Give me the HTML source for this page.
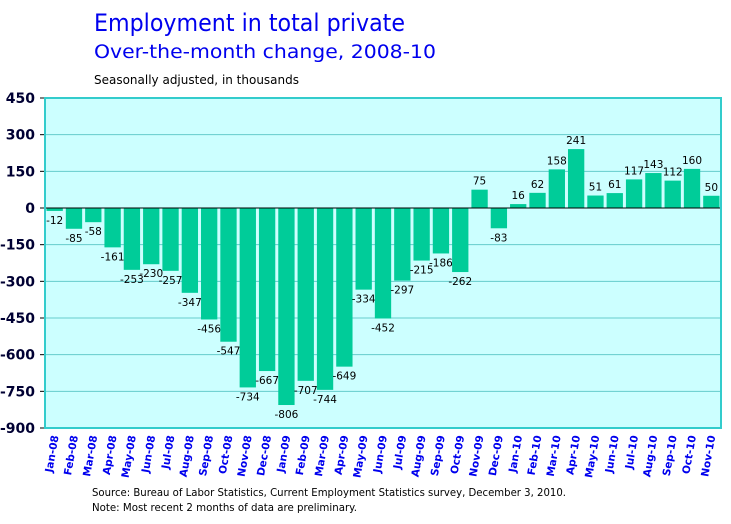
<!DOCTYPE html>
<html><head><meta charset="utf-8"><style>
body{margin:0;background:#fff;width:731px;height:520px;overflow:hidden;font-family:"DejaVu Sans","Liberation Sans",sans-serif}
</style></head><body>
<svg width="731" height="520" xmlns="http://www.w3.org/2000/svg" font-family="DejaVu Sans, Liberation Sans, sans-serif">
<text x="94" y="31" font-size="24" fill="#0000ee" textLength="311" lengthAdjust="spacingAndGlyphs">Employment in total private</text>
<text x="94" y="58" font-size="19" fill="#0000ee" textLength="342" lengthAdjust="spacingAndGlyphs">Over-the-month change, 2008-10</text>
<text x="94" y="84" font-size="12" fill="#000" textLength="205" lengthAdjust="spacingAndGlyphs">Seasonally adjusted, in thousands</text>
<g id="plot"></g>
<text x="92" y="496" font-size="10.5" fill="#000" textLength="474" lengthAdjust="spacingAndGlyphs">Source:  Bureau of Labor Statistics, Current Employment Statistics survey, December 3, 2010.</text>
<text x="92" y="511" font-size="10.5" fill="#000" textLength="265" lengthAdjust="spacingAndGlyphs">Note: Most recent 2 months of data are preliminary.</text>
</svg>
<script>
const categories=["Jan-08","Feb-08","Mar-08","Apr-08","May-08","Jun-08","Jul-08","Aug-08","Sep-08","Oct-08","Nov-08","Dec-08","Jan-09","Feb-09","Mar-09","Apr-09","May-09","Jun-09","Jul-09","Aug-09","Sep-09","Oct-09","Nov-09","Dec-09","Jan-10","Feb-10","Mar-10","Apr-10","May-10","Jun-10","Jul-10","Aug-10","Sep-10","Oct-10","Nov-10"];
const values=[-12,-85,-58,-161,-253,-230,-257,-347,-456,-547,-734,-667,-806,-707,-744,-649,-334,-452,-297,-215,-186,-262,75,-83,16,62,158,241,51,61,117,143,112,160,50];
const ticks=[450,300,150,0,-150,-300,-450,-600,-750,-900];
const NS="http://www.w3.org/2000/svg";
const g=document.getElementById('plot');
const L=45,R=721,T=98,B=428,YMAX=450,YMIN=-900;
const y=v=>T+(YMAX-v)*(B-T)/(YMAX-YMIN);
const step=(R-L)/categories.length;
const x=i=>L+i*step;
function mk(tag,a){const e=document.createElementNS(NS,tag);for(const k in a)e.setAttribute(k,a[k]);g.appendChild(e);return e;}
const bg=mk('rect',{x:L,y:T,width:R-L,height:B-T,fill:'#ccffff'});


ticks.forEach(t=>{
  const ln=mk('line',{x1:L,x2:R,y1:y(t),y2:y(t),stroke:'#66cccc','stroke-width':1});
  
  
  const tk=mk('line',{x1:L-5,x2:L,y1:y(t),y2:y(t),stroke:'#000','stroke-width':1});
  
  
  const tx=mk('text',{x:L-10,y:y(t)+5,'text-anchor':'end','font-size':14,'font-weight':'bold',fill:'#000033'});
  tx.textContent=t;
  
  
});
values.forEach((v,i)=>{
  const y0=y(0),yv=y(v);
  const r=mk('rect',{x:x(i)+1.5,y:Math.min(y0,yv),width:step-3,height:Math.abs(yv-y0),fill:'#00cc99'});
  
  
  const cx=x(i)+step/2;
  const lb=mk('text',{x:cx,y:v<0?yv+13:yv-5,'text-anchor':'middle','font-size':10.5,fill:'#000'});
  lb.textContent=v;
  
  
  const cl=mk('text',{x:0,y:0,'text-anchor':'end','font-size':10.5,'font-weight':'bold',fill:'#0000ee',transform:`translate(${cx+4},${B+8}) rotate(-80)`});
  cl.textContent=categories[i];
  
  
});
const zl=mk('line',{x1:L,x2:R,y1:y(0),y2:y(0),stroke:'#000','stroke-width':1});


const bd=mk('rect',{x:L,y:T,width:R-L,height:B-T,fill:'none',stroke:'#33cccc','stroke-width':2});


</script>
</body></html>
